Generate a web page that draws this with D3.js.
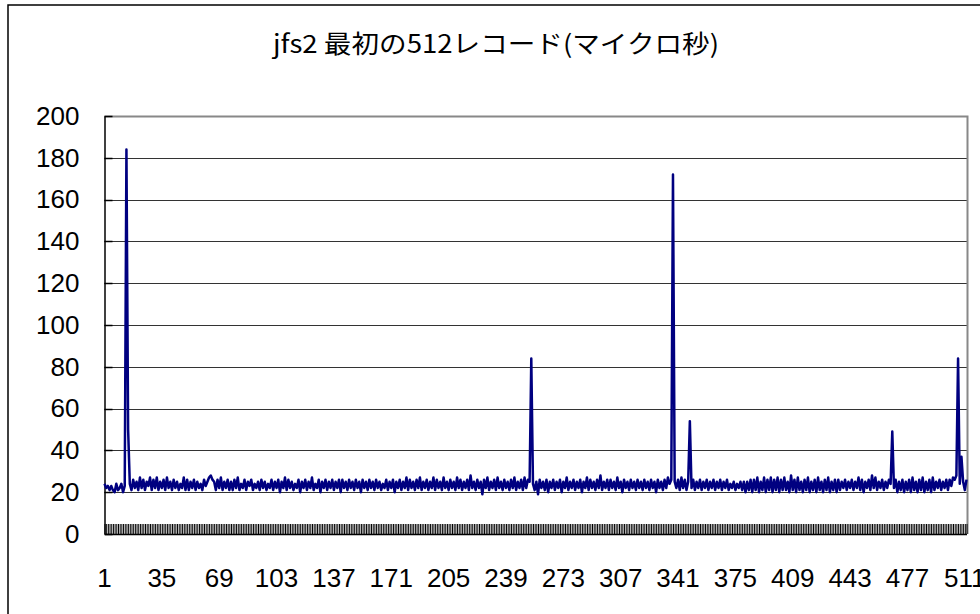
<!DOCTYPE html>
<html>
<head>
<meta charset="utf-8">
<script src="https://cdn.jsdelivr.net/npm/d3@7"></script>
<style>
  html, body { margin: 0; padding: 0; background: #fff; }
  svg { display: block; }
</style>
</head>
<body>
<svg id="chart" width="980" height="614"></svg>
<script>
const title = "jfs2 最初の512レコード(マイクロ秒)";
const yTicks = [0, 20, 40, 60, 80, 100, 120, 140, 160, 180, 200];
const xTickLabels = [1, 35, 69, 103, 137, 171, 205, 239, 273, 307, 341, 375, 409, 443, 477, 511];
const values = [
  24,22,23,21,23,21,20,24,21,22,24,20,23,184,50,24,21,26,22,25,
  21,27,22,26,21,25,23,27,21,26,22,27,21,25,22,26,21,27,22,25,
  21,26,22,25,21,24,22,27,21,26,21,25,22,26,21,25,22,24,21,26,
  23,25,27,28,26,25,21,26,22,27,21,25,22,26,21,25,21,26,22,27,
  21,24,22,26,21,25,23,26,21,24,22,25,21,26,22,25,21,24,22,26,
  21,25,22,26,20,25,22,27,21,26,22,25,21,24,22,26,20,25,22,26,
  21,25,22,27,21,24,22,26,20,25,22,26,21,25,22,26,21,25,22,26,
  20,26,22,25,21,26,22,25,21,26,22,25,20,26,22,25,21,26,22,25,
  21,26,22,25,21,24,22,26,21,25,22,26,20,25,22,26,21,25,22,27,
  21,26,22,25,21,26,22,27,21,25,22,26,21,25,22,27,21,26,22,25,
  21,27,22,25,21,26,22,25,21,27,22,26,21,25,22,26,21,28,22,25,
  21,26,22,25,19,26,22,27,21,25,22,26,21,27,22,25,21,26,22,25,
  21,26,22,27,21,25,22,26,21,27,22,26,25,84,24,21,25,19,26,22,
  25,21,26,20,25,22,26,21,25,22,26,20,25,22,27,21,25,22,26,21,
  25,22,26,20,25,22,27,21,26,22,25,21,26,22,28,21,25,22,26,21,
  26,22,25,21,27,22,25,20,26,22,25,21,26,22,25,21,26,22,25,21,
  26,22,25,21,26,22,25,20,26,22,25,21,26,22,27,24,26,172,25,22,
  26,21,27,22,26,21,25,54,22,26,21,25,22,26,21,25,22,26,21,25,
  22,26,21,25,22,26,21,25,22,26,21,24,22,25,21,24,22,25,21,25,
  20,25,21,26,20,26,21,27,20,25,21,27,20,26,21,27,20,26,21,27,
  20,26,21,27,21,25,20,28,21,26,20,27,21,25,20,26,21,27,20,25,
  21,26,20,27,21,25,20,26,21,27,20,25,21,26,20,26,21,25,22,26,
  21,25,22,26,21,25,22,27,21,26,20,25,22,26,21,28,22,27,21,25,
  22,26,21,25,22,26,24,49,22,26,20,25,21,26,20,25,21,26,20,27,
  21,25,20,26,21,27,20,25,21,26,20,27,21,25,22,26,21,25,22,26,
  21,26,23,27,26,28,84,24,37,25,21,26
];
const categories = values.map((v, i) => i + 1);

const svg = d3.select("#chart");

// outer chart border
svg.append("rect")
  .attr("x", 8).attr("y", 5).attr("width", 1000).attr("height", 700)
  .attr("fill", "#fff").attr("stroke", "#000").attr("stroke-width", 1.5);

const pLeft = 104.5, pRight = 967.5, pTop = 116, pBottom = 534;

const x = d3.scalePoint().domain(categories).range([pLeft, pRight - 1]);
const y = d3.scaleLinear().domain([0, 200]).range([pBottom, pTop]);

// gridlines
svg.append("g")
  .selectAll("line")
  .data(yTicks.filter(t => t > 0 && t < 200))
  .join("line")
  .attr("x1", pLeft).attr("x2", pRight)
  .attr("y1", d => Math.round(y(d)) + 0.5).attr("y2", d => Math.round(y(d)) + 0.5)
  .attr("stroke", "#333").attr("stroke-width", 1);

// plot border top/right (grey)
svg.append("path")
  .attr("d", `M${pLeft},${pTop + 0.5}H${pRight}V${pBottom}`)
  .attr("fill", "none").attr("stroke", "#888").attr("stroke-width", 2);

// y axis
const yAxis = svg.append("g")
  .attr("transform", `translate(${pLeft},0)`)
  .call(d3.axisLeft(y).tickValues(yTicks).tickSize(0).tickPadding(25));
yAxis.select(".domain").attr("stroke", "#000").attr("stroke-width", 1.5);
yAxis.selectAll("text")
  .attr("font-family", "Liberation Sans, Arial, sans-serif")
  .attr("font-size", 26).attr("fill", "#000");
// small inward y ticks
svg.append("g").selectAll("line").data(yTicks)
  .join("line")
  .attr("x1", pLeft).attr("x2", pLeft + 8)
  .attr("y1", d => Math.round(y(d)) + 0.5).attr("y2", d => Math.round(y(d)) + 0.5)
  .attr("stroke", "#000").attr("stroke-width", 1.5);

// x axis dense inward ticks
const xAxis = svg.append("g")
  .attr("transform", `translate(0,${pBottom})`)
  .call(d3.axisBottom(x).tickValues(categories).tickSizeInner(-10).tickSizeOuter(0).tickFormat(""));
xAxis.select(".domain").attr("stroke", "#000").attr("stroke-width", 1.5);
xAxis.selectAll(".tick line").attr("stroke", "#000").attr("stroke-width", 1);

// x labels
svg.append("g").selectAll("text").data(xTickLabels)
  .join("text")
  .attr("x", d => x(d))
  .attr("y", 587)
  .attr("text-anchor", "middle")
  .attr("font-family", "Liberation Sans, Arial, sans-serif")
  .attr("font-size", 26)
  .attr("fill", "#000")
  .text(d => d);

// line
const line = d3.line()
  .x((d, i) => x(categories[i]))
  .y(d => y(d));
svg.append("path")
  .datum(values)
  .attr("d", line)
  .attr("fill", "none")
  .attr("stroke", "#000080")
  .attr("stroke-width", 2.5)
  .attr("stroke-linejoin", "round");

// title
svg.append("text")
  .attr("x", 496).attr("y", 53)
  .attr("text-anchor", "middle")
  .attr("font-family", "Noto Sans CJK JP, sans-serif")
  .attr("font-size", 25)
  .attr("textLength", 446)
  .attr("lengthAdjust", "spacingAndGlyphs")
  .attr("fill", "#000")
  .text(title);
</script>
</body>
</html>
